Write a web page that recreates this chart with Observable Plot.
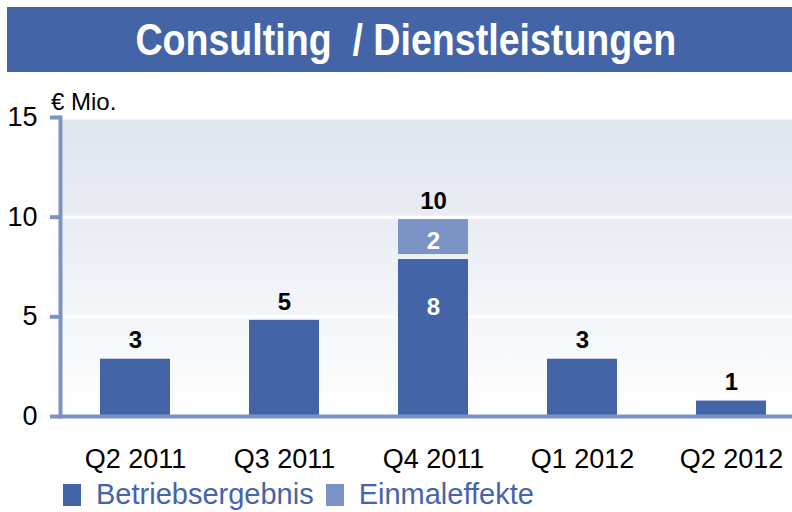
<!DOCTYPE html>
<html>
<head>
<meta charset="utf-8">
<script src="https://cdn.jsdelivr.net/npm/d3@7"></script>
<script src="https://cdn.jsdelivr.net/npm/@observablehq/plot@0.6"></script>
<style>
  html, body { margin: 0; padding: 0; background: #fff; }
  body { width: 792px; height: 512px; position: relative; overflow: hidden; font-family: "Liberation Sans", Arial, sans-serif; }
  #title { position: absolute; left: 7px; top: 7px; width: 785px; height: 65px; background: #4364a7; color: #fff;
    display: flex; align-items: center; justify-content: center; font: bold 45px "Liberation Sans", Arial, sans-serif; padding-left: 12px; box-sizing: border-box; }
  #title span { display: inline-block; transform: scaleX(0.835); white-space: nowrap; }
  #unit { position: absolute; left: 51px; top: 88px; font-size: 24px; color: #000; }
  #chart { position: absolute; left: 0; top: 80px; }
  #legend { position: absolute; left: 63px; top: 478px; display: flex; align-items: center; font-size: 29px; color: #4564ab; }
  .sw { width: 18px; height: 22px; display: inline-block; }
</style>
</head>
<body>
<div id="title"><span>Consulting&nbsp; / Dienstleistungen</span></div>
<div id="unit">€ Mio.</div>
<div id="chart"></div>
<div id="legend"></div>
<script>
// ---- data ----
const quarters = ["Q2 2011", "Q3 2011", "Q4 2011", "Q1 2012", "Q2 2012"];
const betriebsergebnis = [3.0, 4.95, 8.0, 3.0, 0.9];
const einmaleffekte = [0, 0, 2.0, 0, 0];
const seriesNames = ["Betriebsergebnis", "Einmaleffekte"];
const seriesColors = ["#4364a7", "#7b93c5"];
const yTicks = [0, 5, 10, 15];

const axisColor = "#7b93c4";

const darkRows = quarters.map((q, i) => ({quarter: q, series: seriesNames[0], base: 0, top: betriebsergebnis[i]}));
const lightRows = quarters.map((q, i) => ({quarter: q, series: seriesNames[1], base: betriebsergebnis[i], top: betriebsergebnis[i] + einmaleffekte[i], e: einmaleffekte[i]})).filter(d => d.e > 0);
const totals = quarters.map((q, i) => ({quarter: q, total: betriebsergebnis[i] + einmaleffekte[i]}));
const darkInner = quarters.map((q, i) => ({quarter: q, v: betriebsergebnis[i], e: einmaleffekte[i]})).filter(d => d.e > 0);

const chart = Plot.plot({
  width: 792,
  height: 395,
  marginLeft: 60,
  marginRight: 0,
  marginTop: 37,
  marginBottom: 59,
  style: {fontFamily: "'Liberation Sans', Arial, sans-serif", color: "#000", background: "transparent", overflow: "visible"},
  x: {domain: quarters, range: [58.4, 807.4], paddingInner: 0.533, paddingOuter: 0.2665, label: null},
  y: {domain: [0, 15], label: null},
  color: {domain: seriesNames, range: seriesColors},
  marks: [
    Plot.frame({fill: "url(#bgGrad)", insetTop: 2, insetLeft: 2}),
    Plot.ruleY([5, 10], {stroke: "white", strokeWidth: 3}),
    Plot.rectY(darkRows, {x: "quarter", y1: "base", y2: "top", fill: "series", insetTop: 2.5}),
    Plot.rectY(lightRows, {x: "quarter", y1: "base", y2: "top", fill: "series", insetTop: 2.5, insetBottom: 2.5}),
    Plot.axisY({ticks: yTicks, tickSize: 10, tickPadding: 13, stroke: axisColor, strokeWidth: 4, fontSize: 27, label: null}),
    Plot.frame({anchor: "left", stroke: axisColor, strokeWidth: 4}),
    Plot.ruleY([0], {stroke: axisColor, strokeWidth: 4}),
    Plot.axisX({tickSize: 0, tickPadding: 32, fontSize: 27, label: null}),
    Plot.text(totals, {x: "quarter", y: "total", text: d => d3.format(".0f")(d.total), dy: -16, fontSize: 24, fontWeight: "bold", fill: "#000"}),
    Plot.text(lightRows, {x: "quarter", y: "top", text: d => d3.format(".0f")(d.e), dy: 24, fontSize: 24, fontWeight: "bold", fill: "#fff"}),
    Plot.text(darkInner, {x: "quarter", y: "v", text: d => d3.format(".0f")(d.v), dy: 50, fontSize: 24, fontWeight: "bold", fill: "#fff"})
  ]
});

d3.select(chart).insert("defs", ":first-child").html(
  `<linearGradient id="bgGrad" x1="0" y1="0" x2="0" y2="1">
     <stop offset="0" stop-color="#e0e5ee"/>
     <stop offset="0.33" stop-color="#e9ecf3"/>
     <stop offset="0.67" stop-color="#f4f6f9"/>
     <stop offset="1" stop-color="#ffffff"/>
   </linearGradient>`
);
document.getElementById("chart").appendChild(chart);

const legend = d3.select("#legend");
seriesNames.forEach((s, i) => {
  legend.append("span").attr("class", "sw").style("background", seriesColors[i]).style("margin-left", i ? "12px" : "0px");
  legend.append("span").text(s).style("margin-left", "15px");
});
</script>
</body>
</html>
